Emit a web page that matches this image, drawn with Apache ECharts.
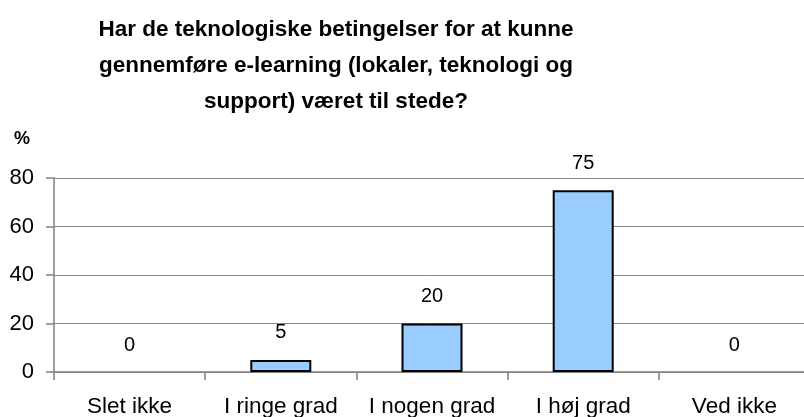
<!DOCTYPE html>
<html><head><meta charset="utf-8">
<script src="https://cdn.jsdelivr.net/npm/echarts@6/dist/echarts.min.js"></script>
<style>html,body{margin:0;padding:0;background:#fff}#c{width:804px;height:417px}</style>
</head><body><div id="c"></div>
<script>
const titleLines = ["Har de teknologiske betingelser for at kunne", "gennemføre e-learning (lokaler, teknologi og", "support) været til stede?"];
const categories = ["Slet ikke", "I ringe grad", "I nogen grad", "I høj grad", "Ved ikke"];
const values = [0, 5, 20, 75, 0];
const yMin = 0, yMax = 80, yStep = 20;
const yUnit = "%";

const chart = echarts.init(document.getElementById('c'), null, {renderer: 'canvas'});
const F = '"Liberation Sans", Arial, sans-serif';
const barData = values.map(v => v === 0 ? {value: v, itemStyle: {borderWidth: 0}} : v);
chart.setOption({
  animation: false,
  backgroundColor: '#fff',
  graphic: [
    {type: 'text', x: 336, y: 12, style: {text: titleLines.join('\n'), font: 'bold 22.5px ' + F, fill: '#000', align: 'center', lineHeight: 36}},
    {type: 'text', x: 14, y: 130, style: {text: yUnit, font: 'bold 18px ' + F, fill: '#000'}}
  ],
  grid: {left: 54, top: 178, width: 756, bottom: 45, containLabel: false, outerBoundsMode: 'none'},
  xAxis: {
    type: 'category', data: categories,
    axisLine: {lineStyle: {color: '#808080', width: 1.5}},
    axisTick: {show: true, length: 8, lineStyle: {color: '#808080', width: 1.5}},
    axisLabel: {color: '#000', fontFamily: F, fontSize: 22.5, margin: 23, interval: 0, hideOverlap: false}
  },
  yAxis: {
    type: 'value', min: yMin, max: yMax, interval: yStep,
    axisLine: {show: true, lineStyle: {color: '#808080', width: 1.5}},
    axisTick: {show: true, length: 8, lineStyle: {color: '#808080', width: 1.5}},
    axisLabel: {color: '#000', fontFamily: F, fontSize: 22, margin: 20},
    splitLine: {lineStyle: {color: '#888', width: 1}}
  },
  series: [{
    type: 'bar', data: barData, barWidth: 61,
    itemStyle: {color: '#99CCFF', borderColor: '#000', borderWidth: 2},
    label: {show: true, position: 'top', distance: 17, color: '#000', fontFamily: F, fontSize: 20}
  }]
});
</script></body></html>
